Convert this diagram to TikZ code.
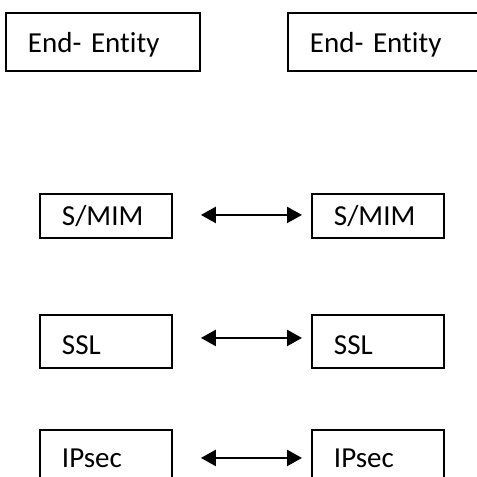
\documentclass[tikz,border=0pt]{standalone}
\usepackage{fontspec}
\setmainfont{Carlito}[Ligatures=NoCommon]
\usetikzlibrary{arrows.meta}
\begin{document}
\begin{tikzpicture}[x=1pt,y=-1pt,
  box/.style={draw=black,line width=1.9pt,rectangle,anchor=north west,
    inner xsep=22pt,inner ysep=0pt,align=left,font=\fontsize{29}{31}\selectfont,
    text depth=0pt},
  conn/.style={line width=2.4pt,{Triangle[length=15pt,width=16pt]}-{Triangle[length=15pt,width=16pt]}}]
\useasboundingbox (0,0) rectangle (477,477);
\clip (0,0) rectangle (477,477);
\fill[white] (0,0) rectangle (477,477);
\node[box,text width=150pt,minimum height=58pt,text height=21.6pt] (ee1) at (5,12) {End- Entity};
\node[box,text width=150pt,minimum height=58pt,text height=21.6pt] (ee2) at (287,12) {End- Entity};
\node[box,text width=88pt,minimum height=44pt,text height=18.6pt] (sm1) at (39,193) {S/MIM};
\node[box,text width=88pt,minimum height=44pt,text height=18.6pt] (sm2) at (311,193) {S/MIM};
\node[box,text width=88pt,minimum height=53pt,text height=25.6pt] (ssl1) at (39,314) {SSL};
\node[box,text width=88pt,minimum height=53pt,text height=25.6pt] (ssl2) at (311,314) {SSL};
\node[box,text width=88pt,minimum height=53pt,text height=23pt] (ip1) at (39,429) {IPsec};
\node[box,text width=88pt,minimum height=53pt,text height=23pt] (ip2) at (311,429) {IPsec};
\draw[conn,shorten <=28pt,shorten >=9pt] ([yshift=1pt]sm1.east) -- ([yshift=1pt]sm2.west);
\draw[conn,shorten <=28pt,shorten >=9pt] ([yshift=3.5pt]ssl1.east) -- ([yshift=3.5pt]ssl2.west);
\draw[conn,shorten <=28pt,shorten >=9pt] ([yshift=-1.5pt]ip1.east) -- ([yshift=-1.5pt]ip2.west);
\end{tikzpicture}
\end{document}
